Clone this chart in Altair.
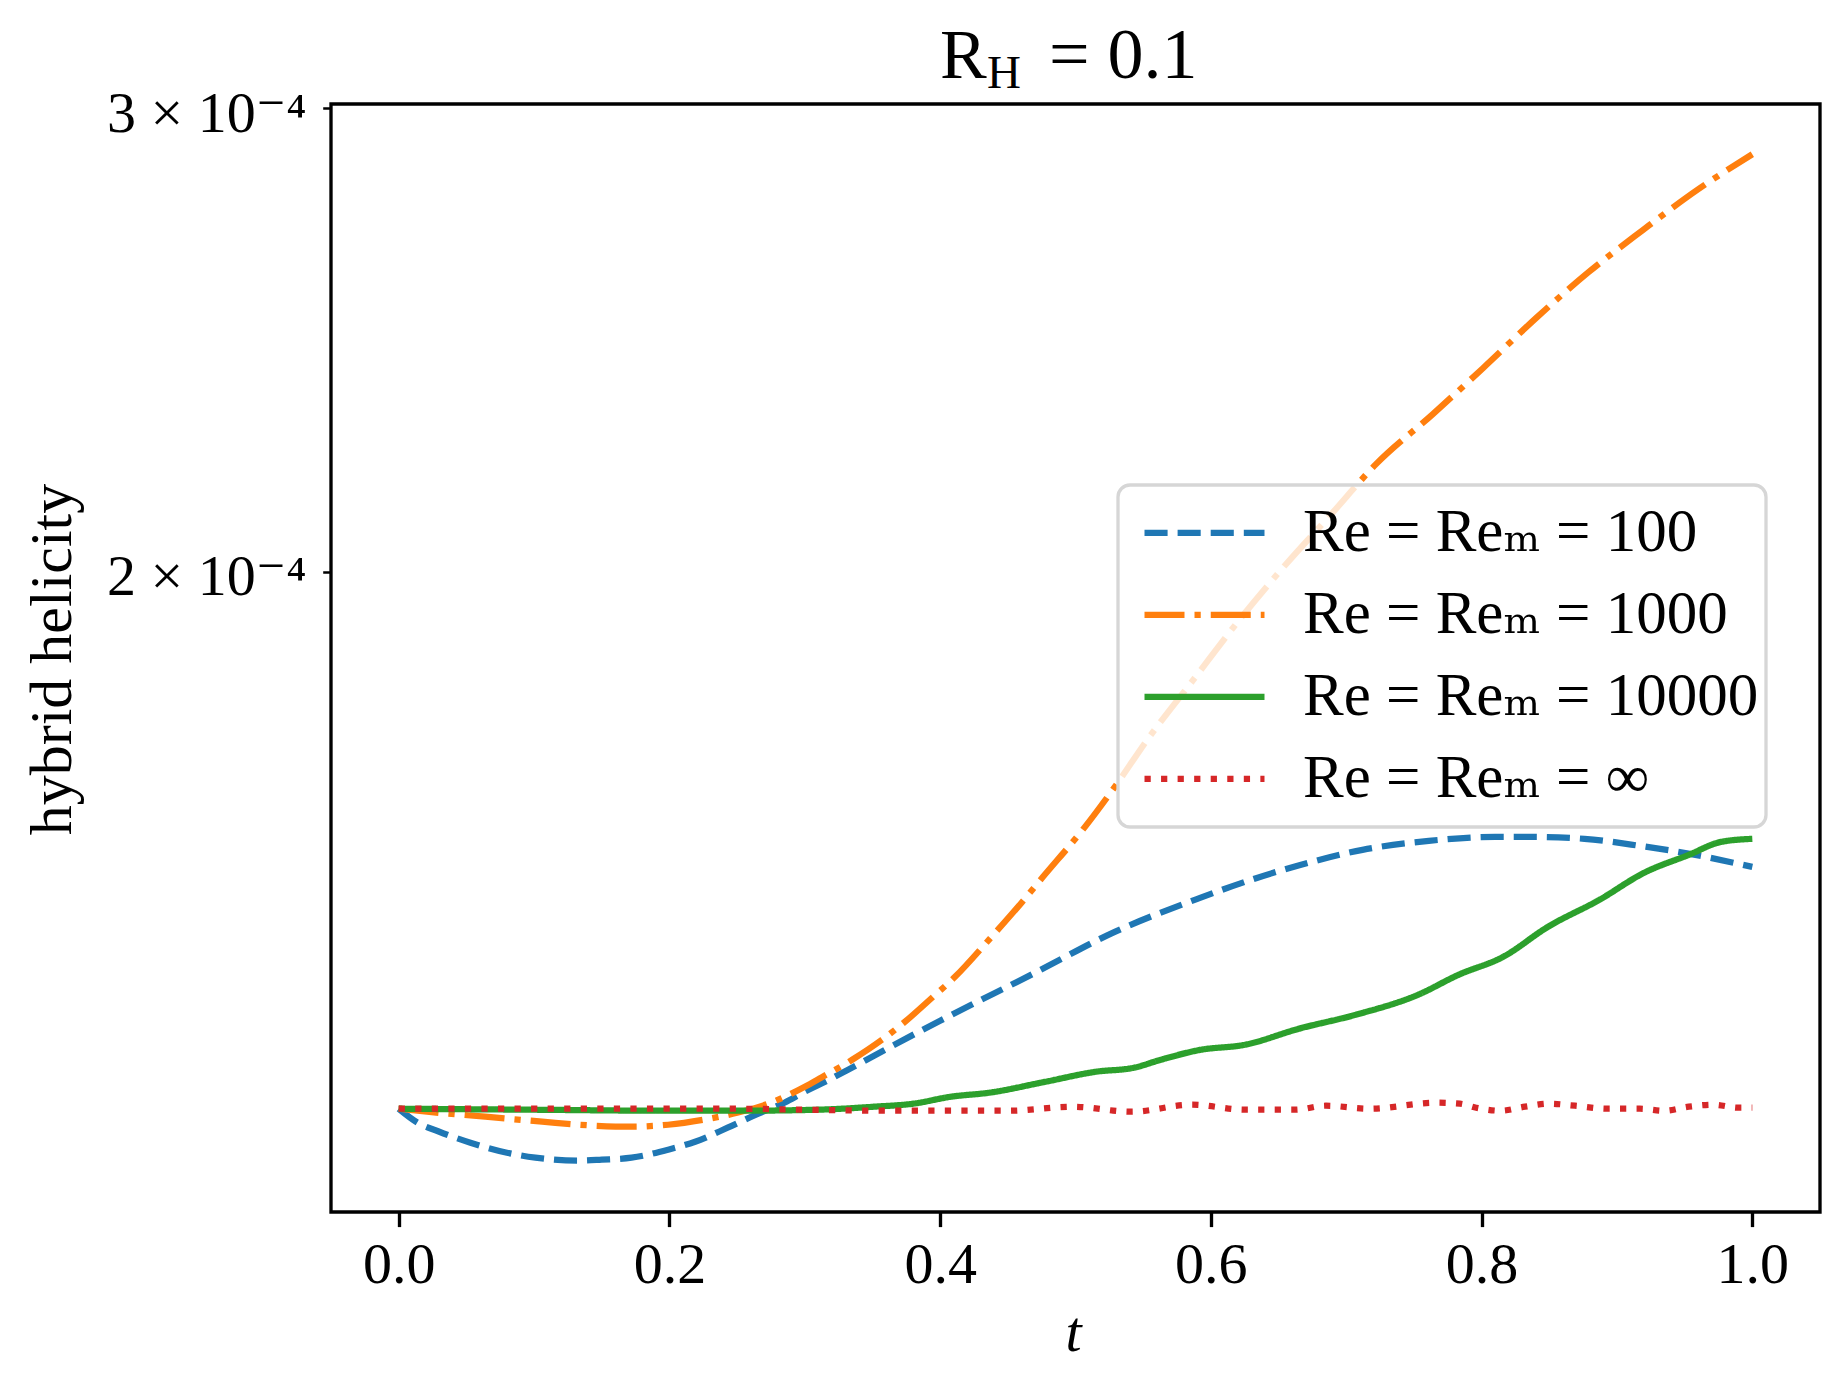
import altair as alt
import pandas as pd

# ---------------- data (hybrid helicity in units of 1e-4) ----------------
series = ["Re = Reₘ = 100", "Re = Reₘ = 1000", "Re = Reₘ = 10000", "Re = Reₘ = ∞"]
colors = ["#1f77b4", "#ff7f0e", "#2ca02c", "#d62728"]
dashes = [[23.1, 10.0], [40.0, 10.0, 6.25, 10.0], [1, 0], [6.25, 10.3]]

t_100 = [0, 0.014, 0.030, 0.053, 0.080, 0.101, 0.132, 0.150, 0.172, 0.199, 0.219,
         0.243, 0.264, 0.285, 0.300, 0.312, 0.332, 0.362, 0.400, 0.470, 0.529,
         0.592, 0.634, 0.666, 0.712, 0.761, 0.810, 0.837, 0.876, 0.917, 0.958, 1.0]
h_100 = [1.2510, 1.2358, 1.2261, 1.2144, 1.2038, 1.1986, 1.1954, 1.1965, 1.1986,
         1.2070, 1.2154, 1.2304, 1.2445, 1.2576, 1.2697, 1.2786, 1.2944, 1.3195,
         1.3510, 1.4088, 1.4602, 1.5042, 1.5307, 1.5480, 1.5687, 1.5811, 1.5866,
         1.5866, 1.5839, 1.5742, 1.5618, 1.5455]

t_1000 = [0, 0.021, 0.064, 0.106, 0.146, 0.172, 0.199, 0.225, 0.250, 0.275, 0.300,
          0.312, 0.335, 0.357, 0.374, 0.394, 0.411, 0.436, 0.460, 0.476, 0.507,
          0.530, 0.553, 0.587, 0.621, 0.655, 0.689, 0.722, 0.764, 0.801, 0.841,
          0.879, 0.919, 0.960, 1.0]
h_1000 = [1.2510, 1.2477, 1.2423, 1.2369, 1.2325, 1.2315, 1.2336, 1.2390, 1.2466,
          1.2576, 1.2753, 1.2854, 1.3057, 1.3287, 1.3498, 1.3784, 1.4039, 1.4500,
          1.4976, 1.5321, 1.6005, 1.6602, 1.7271, 1.8200, 1.9179, 2.0123, 2.1039,
          2.1978, 2.2961, 2.3901, 2.4991, 2.5993, 2.6964, 2.7947, 2.8816]

t_10000 = [0, 0.100, 0.200, 0.250, 0.309, 0.351, 0.380, 0.408, 0.436, 0.478, 0.515,
           0.543, 0.563, 0.592, 0.625, 0.665, 0.707, 0.753, 0.783, 0.816, 0.849,
           0.887, 0.920, 0.953, 0.977, 1.0]
h_10000 = [1.2510, 1.2499, 1.2488, 1.2488, 1.2499, 1.2532, 1.2565, 1.2642, 1.2686,
           1.2809, 1.2921, 1.2966, 1.3057, 1.3170, 1.3229, 1.3416, 1.3581, 1.3820,
           1.4064, 1.4287, 1.4666, 1.5016, 1.5375, 1.5618, 1.5797, 1.5839]

t_inf = [0, 0.100, 0.200, 0.250, 0.300, 0.370, 0.450, 0.498, 0.541, 0.586, 0.625,
         0.662, 0.685, 0.717, 0.766, 0.784, 0.796, 0.814, 0.832, 0.850, 0.869,
         0.893, 0.917, 0.935, 0.953, 0.971, 0.990, 1.0]
h_inf = [1.2510, 1.2510, 1.2510, 1.2510, 1.2499, 1.2488, 1.2488, 1.2532, 1.2477,
         1.2554, 1.2499, 1.2499, 1.2543, 1.2510, 1.2576, 1.2565, 1.2521, 1.2488,
         1.2532, 1.2565, 1.2543, 1.2510, 1.2510, 1.2488, 1.2532, 1.2554, 1.2521,
         1.2521]

x_ticks = [0.0, 0.2, 0.4, 0.6, 0.8, 1.0]
x_tick_labels = ["0.0", "0.2", "0.4", "0.6", "0.8", "1.0"]
y_ticks = [2e-4, 3e-4]
y_tick_labels = ["2 × 10⁻⁴", "3 × 10⁻⁴"]

title_parts = ["R", "H", "= 0.1"]
x_title = "t"
y_title = "hybrid helicity"

# ---------------- build table ----------------
rows = []
for name, ts, hs in zip(series, [t_100, t_1000, t_10000, t_inf],
                        [h_100, h_1000, h_10000, h_inf]):
    for t, h in zip(ts, hs):
        rows.append({"t": t, "h": h * 1e-4, "series": name})
df = pd.DataFrame(rows)

FONT = "Liberation Serif, DejaVu Serif, serif"
W, H = 1489, 1108


def label_expr(values, labels):
    parts = " : ".join(
        f"abs(datum.value - {v}) < {abs(v) * 1e-3 + 1e-12} ? '{l}'"
        for v, l in zip(values, labels))
    return parts + " : ''"


lines = alt.Chart(df).mark_line(strokeWidth=6.25, interpolate="monotone",
                                strokeJoin="round").encode(
    x=alt.X("t:Q",
            scale=alt.Scale(domain=[-0.05, 1.05], nice=False, zero=False),
            axis=alt.Axis(values=x_ticks, labelExpr=label_expr(x_ticks, x_tick_labels),
                          title=x_title, tickSize=14.6, tickWidth=3.33,
                          labelPadding=55.4, labelBaseline="alphabetic",
                          labelFlush=False, labelLimit=1000,
                          titleX=742, titleY=138,
                          titleBaseline="alphabetic", titleFontStyle="italic",
                          titleAlign="center")),
    y=alt.Y("h:Q",
            scale=alt.Scale(type="log", domain=[1.143e-4, 3.011e-4], nice=False, zero=False),
            axis=alt.Axis(values=y_ticks, labelExpr=label_expr(y_ticks, y_tick_labels),
                          title=y_title, tickSize=8.3, tickWidth=2.5,
                          labelPadding=16.7, labelBaseline="alphabetic",
                          labelOffset=23, labelFlush=False, labelLimit=1000,
                          titleX=-261, titleY=555, titleAngle=270, titleFontSize=60,
                          titleBaseline="alphabetic", titleAlign="center")),
    color=alt.Color("series:N", scale=alt.Scale(domain=series, range=colors),
                    legend=alt.Legend(orient="none", legendX=787, legendY=381,
                                      title=None, labelFont=FONT, labelFontSize=61,
                                      labelColor="black", labelLimit=2000,
                                      symbolType="stroke", symbolSize=14400,
                                      symbolStrokeWidth=6.25, clipHeight=81.5,
                                      rowPadding=0, padding=7, symbolOffset=16,
                                      labelOffset=35,
                                      fillColor="rgba(255,255,255,0.8)",
                                      strokeColor="#d6d6d6", cornerRadius=12)),
    strokeDash=alt.StrokeDash("series:N", scale=alt.Scale(domain=series, range=dashes),
                              legend=None),
)

t_r = alt.Chart(pd.DataFrame({"txt": [title_parts[0]]})).mark_text(
    font=FONT, fontSize=70, align="left", baseline="alphabetic", color="black"
).encode(x=alt.value(609), y=alt.value(-26), text="txt:N")
t_h = alt.Chart(pd.DataFrame({"txt": [title_parts[1]]})).mark_text(
    font=FONT, fontSize=47, align="left", baseline="alphabetic", color="black"
).encode(x=alt.value(656), y=alt.value(-16), text="txt:N")
t_eq = alt.Chart(pd.DataFrame({"txt": [title_parts[2]]})).mark_text(
    font=FONT, fontSize=72, align="left", baseline="alphabetic", color="black"
).encode(x=alt.value(718), y=alt.value(-26), text="txt:N")

chart = alt.layer(lines, t_r, t_h, t_eq).properties(
    width=W, height=H,
    autosize=alt.AutoSizeParams(type="none"),
    padding={"left": 323, "top": 96, "right": 12, "bottom": 150},
    background="white",
).configure_axis(
    labelFont=FONT, labelFontSize=58, labelColor="black",
    titleFont=FONT, titleFontSize=58, titleColor="black", titleFontWeight="normal",
    grid=False, domain=False, tickColor="black",
).configure_legend(
    strokeWidth=3.3,
).configure_view(
    stroke="black", strokeWidth=3.33,
)

chart.save("out.html", embed_options={"renderer": "svg", "actions": False})
